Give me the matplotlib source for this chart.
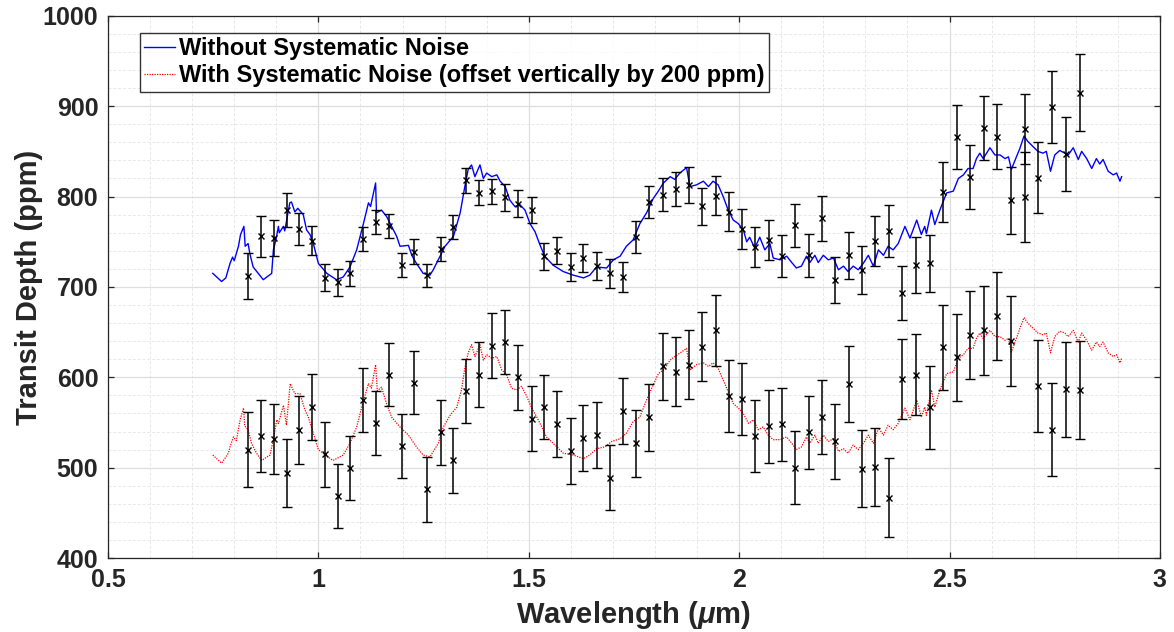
import numpy as np
import matplotlib.pyplot as plt
from matplotlib.ticker import MultipleLocator

plt.rcParams['font.family'] = ['Liberation Sans', 'DejaVu Sans']
plt.rcParams['font.weight'] = 'bold'
plt.rcParams['mathtext.fontset'] = 'custom'
plt.rcParams['mathtext.it'] = 'Liberation Sans:italic:bold'
plt.rcParams['mathtext.rm'] = 'Liberation Sans:bold'

# model spectrum without systematic noise (wavelength in um, depth in ppm)
model_wl = [0.749, 0.770, 0.780, 0.790, 0.796, 0.800, 0.810, 0.815, 0.823, 0.826, 0.833, 0.837, 0.845,
            0.869, 0.889, 0.893, 0.899, 0.905, 0.907, 0.917, 0.920, 0.932, 0.936, 0.944, 0.951, 0.964,
            0.972, 0.980, 0.988, 1.000, 1.020, 1.043, 1.059, 1.075, 1.091, 1.107, 1.119, 1.124, 1.136,
            1.138, 1.150, 1.162, 1.174, 1.186, 1.194, 1.214, 1.222, 1.233, 1.249, 1.265, 1.273, 1.289,
            1.301, 1.321, 1.337, 1.348, 1.356, 1.364, 1.372, 1.384, 1.392, 1.400, 1.412, 1.424, 1.432,
            1.444, 1.455, 1.467, 1.479, 1.491, 1.503, 1.515, 1.527, 1.538, 1.558, 1.582, 1.606, 1.630,
            1.645, 1.661, 1.685, 1.701, 1.717, 1.732, 1.748, 1.764, 1.780, 1.796, 1.808, 1.820, 1.836,
            1.847, 1.859, 1.875, 1.883, 1.899, 1.915, 1.927, 1.938, 1.950, 1.962, 1.974, 1.986, 1.998,
            2.010, 2.018, 2.025, 2.037, 2.049, 2.061, 2.073, 2.081, 2.097, 2.113, 2.125, 2.136, 2.148,
            2.160, 2.168, 2.180, 2.188, 2.200, 2.212, 2.224, 2.236, 2.248, 2.259, 2.271, 2.283, 2.295,
            2.307, 2.319, 2.331, 2.343, 2.354, 2.366, 2.378, 2.394, 2.406, 2.422, 2.433, 2.441, 2.445,
            2.457, 2.465, 2.477, 2.493, 2.509, 2.521, 2.533, 2.544, 2.556, 2.564, 2.572, 2.580, 2.596,
            2.608, 2.620, 2.632, 2.640, 2.647, 2.659, 2.667, 2.677, 2.686, 2.699, 2.710, 2.722, 2.730,
            2.740, 2.750, 2.762, 2.774, 2.782, 2.794, 2.806, 2.814, 2.826, 2.838, 2.849, 2.857, 2.865,
            2.877, 2.889, 2.897, 2.905, 2.909]
model_depth = [715, 706, 710, 726, 733, 729, 745, 758, 767, 745, 748, 737, 722,
               708, 715, 741, 752, 767, 760, 767, 762, 793, 794, 783, 787, 780,
               763, 758, 748, 726, 715, 708, 711, 722, 741, 770, 793, 789, 815,
               782, 785, 778, 767, 756, 745, 746, 735, 726, 715, 713, 719, 734,
               745, 756, 782, 811, 830, 835, 822, 835, 820, 826, 822, 824, 817,
               811, 796, 789, 791, 785, 770, 761, 746, 734, 724, 717, 713, 710,
               713, 722, 721, 730, 734, 745, 752, 770, 782, 798, 806, 815, 822,
               819, 826, 832, 811, 813, 817, 811, 817, 813, 800, 785, 774, 770,
               763, 750, 755, 743, 755, 741, 748, 732, 730, 734, 727, 721, 723,
               734, 727, 735, 727, 735, 730, 732, 719, 723, 717, 723, 719, 726,
               735, 723, 741, 735, 745, 741, 748, 767, 754, 774, 758, 767, 759,
               785, 769, 785, 804, 806, 820, 824, 831, 831, 842, 848, 842, 854,
               846, 846, 842, 844, 830, 844, 853, 867, 861, 855, 850, 848, 850,
               828, 846, 851, 848, 846, 854, 841, 850, 842, 831, 842, 836, 841,
               828, 824, 826, 817, 822]

# model spectrum with systematic noise, as drawn (already offset down by 200 ppm)
noisy_wl = [0.749, 0.770, 0.786, 0.790, 0.798, 0.805, 0.814, 0.822, 0.825, 0.833, 0.841, 0.853, 0.865,
            0.885, 0.893, 0.901, 0.905, 0.917, 0.924, 0.933, 0.944, 0.956, 0.968, 0.976, 0.988, 1.000,
            1.016, 1.035, 1.059, 1.075, 1.091, 1.103, 1.119, 1.126, 1.136, 1.140, 1.150, 1.162, 1.174,
            1.194, 1.214, 1.233, 1.249, 1.265, 1.273, 1.285, 1.297, 1.313, 1.329, 1.340, 1.348, 1.356,
            1.364, 1.372, 1.384, 1.392, 1.400, 1.412, 1.424, 1.436, 1.447, 1.459, 1.471, 1.483, 1.495,
            1.507, 1.519, 1.531, 1.542, 1.558, 1.582, 1.606, 1.630, 1.645, 1.661, 1.681, 1.697, 1.717,
            1.732, 1.748, 1.764, 1.780, 1.796, 1.808, 1.820, 1.836, 1.847, 1.863, 1.875, 1.883, 1.899,
            1.915, 1.927, 1.938, 1.950, 1.962, 1.974, 1.986, 1.998, 2.010, 2.022, 2.034, 2.045, 2.057,
            2.069, 2.081, 2.097, 2.113, 2.125, 2.136, 2.148, 2.160, 2.168, 2.180, 2.188, 2.200, 2.212,
            2.224, 2.236, 2.248, 2.259, 2.271, 2.283, 2.295, 2.307, 2.319, 2.331, 2.343, 2.354, 2.366,
            2.378, 2.394, 2.406, 2.422, 2.433, 2.441, 2.445, 2.457, 2.465, 2.477, 2.493, 2.509, 2.521,
            2.533, 2.544, 2.556, 2.564, 2.572, 2.580, 2.596, 2.608, 2.620, 2.632, 2.640, 2.647, 2.659,
            2.667, 2.677, 2.686, 2.699, 2.710, 2.722, 2.730, 2.740, 2.750, 2.762, 2.774, 2.782, 2.794,
            2.806, 2.814, 2.826, 2.838, 2.849, 2.857, 2.865, 2.877, 2.889, 2.897, 2.905, 2.909]
noisy_depth = [514, 505, 516, 523, 534, 530, 553, 566, 546, 542, 527, 516, 508,
               514, 531, 553, 549, 569, 547, 593, 582, 582, 564, 556, 538, 520,
               514, 508, 514, 527, 545, 567, 593, 588, 614, 585, 589, 571, 556,
               545, 536, 523, 514, 512, 518, 527, 545, 558, 567, 586, 610, 627,
               636, 623, 636, 619, 625, 621, 623, 608, 603, 588, 586, 590, 579,
               566, 556, 545, 534, 527, 516, 514, 510, 514, 521, 523, 529, 532,
               538, 551, 556, 575, 592, 604, 608, 619, 623, 628, 632, 608, 614,
               616, 612, 616, 610, 597, 584, 571, 566, 560, 549, 553, 542, 545,
               536, 531, 531, 534, 527, 520, 523, 534, 527, 536, 527, 536, 529,
               532, 518, 521, 516, 525, 520, 527, 536, 527, 544, 536, 547, 542,
               549, 566, 553, 575, 556, 567, 558, 586, 567, 586, 604, 606, 621,
               625, 632, 632, 643, 649, 643, 652, 645, 645, 641, 643, 628, 643,
               654, 666, 660, 654, 649, 647, 649, 627, 645, 651, 649, 645, 652,
               639, 649, 641, 630, 639, 634, 639, 627, 623, 625, 616, 621]

# binned simulated observations
bin_wl = [0.833, 0.864, 0.894, 0.925, 0.955, 0.985, 1.015, 1.046, 1.076, 1.106, 1.137, 1.168, 1.198,
          1.228, 1.258, 1.291, 1.321, 1.352, 1.382, 1.413, 1.444, 1.475, 1.507, 1.537, 1.568, 1.600,
          1.630, 1.661, 1.693, 1.723, 1.756, 1.786, 1.818, 1.849, 1.881, 1.912, 1.944, 1.976, 2.007,
          2.038, 2.070, 2.102, 2.133, 2.165, 2.197, 2.228, 2.261, 2.293, 2.324, 2.356, 2.388, 2.420,
          2.453, 2.485, 2.518, 2.549, 2.582, 2.613, 2.646, 2.679, 2.711, 2.744, 2.777, 2.809]
clean_obs = [712, 756, 754, 785, 764, 751, 710, 705, 715, 753, 772, 767, 724,
             739, 713, 742, 766, 818, 804, 806, 799, 792, 785, 734, 740, 722,
             732, 723, 715, 711, 755, 794, 802, 808, 813, 789, 801, 783, 764,
             744, 752, 734, 768, 735, 776, 708, 735, 719, 751, 762, 693, 724,
             726, 805, 866, 822, 876, 866, 796, 875, 821, 899, 847, 915]
clean_err = [25.5, 23, 20.3, 18.5, 17.5, 16.2, 15, 14.8, 14.2, 13.5, 13.5, 13.3, 13.5,
             13.5, 12.9, 13.1, 13.5, 13.8, 13.8, 13.8, 14.8, 14.8, 14.8, 15.1, 15.1, 15.3,
             15.7, 15.7, 16.2, 16.8, 17.5, 17.5, 18.3, 18.8, 19.6, 20.3, 21.2, 21.6, 22.1,
             22.1, 22.5, 23, 23.4, 24, 24.9, 25.3, 26, 26.8, 28, 29.2, 29.9, 30.8,
             31.7, 33, 35, 35.4, 35.8, 36, 37, 38.6, 39, 40, 41.2, 42.6]
noisy_obs = [520, 535, 532, 494, 542, 567, 515, 469, 500, 575, 549, 603, 524,
             594, 476, 539, 508, 585, 603, 635, 639, 600, 554, 567, 548, 518,
             533, 536, 489, 563, 527, 556, 612, 606, 614, 634, 652, 579, 576,
             535, 546, 548, 500, 539, 556, 529, 593, 499, 501, 467, 598, 603,
             567, 633, 622, 647, 652, 668, 640, 799, 590, 542, 587, 586]
noisy_err = [41.5, 40, 38.7, 37.6, 37.8, 36.5, 36, 35.6, 35.6, 35.4, 35.4, 35, 35.4,
             35, 35.6, 35.6, 35.6, 35.4, 35.6, 36, 35.6, 36, 36, 35.6, 36.5, 36.5,
             36.5, 36.3, 36.3, 36.7, 37.3, 37.1, 37.5, 38.2, 38.4, 38.4, 39, 39.7, 40,
             40, 40.4, 40.2, 40.2, 40.6, 41.2, 41.5, 42, 42.4, 43.4, 43.7, 44.3, 45.2,
             45.8, 46.7, 48.4, 48.4, 48.9, 48.5, 50, 49.8, 50.9, 51.3, 52.6, 54]

x_ticks = [0.5, 1, 1.5, 2, 2.5, 3]
x_tick_labels = ['0.5', '1', '1.5', '2', '2.5', '3']
y_ticks = [400, 500, 600, 700, 800, 900, 1000]

dark = '#262626'

fig = plt.figure(figsize=(11.74, 6.32), dpi=100)
ax = fig.add_axes([0.092, 0.117, 0.896, 0.858])

ax.plot(model_wl, model_depth, color='#0000ff', lw=1.0,
        label='Without Systematic Noise', zorder=3)
ax.plot(noisy_wl, noisy_depth, color='#ff0000', lw=0.9, ls=(0, (1, 1)),
        label='With Systematic Noise (offset vertically by 200 ppm)', zorder=3)

ax.errorbar(bin_wl, clean_obs, yerr=clean_err, fmt='x', color='black', ms=4,
            mew=1.0, elinewidth=1.1, capsize=3.5, capthick=1.1, zorder=4)
ax.errorbar(bin_wl, noisy_obs, yerr=noisy_err, fmt='x', color='black', ms=4,
            mew=1.0, elinewidth=1.1, capsize=3.5, capthick=1.1, zorder=4)

ax.set_xlim(0.5, 3)
ax.set_ylim(400, 1000)
ax.set_xticks(x_ticks)
ax.set_xticklabels(x_tick_labels)
ax.set_yticks(y_ticks)
ax.xaxis.set_minor_locator(MultipleLocator(0.1))
ax.yaxis.set_minor_locator(MultipleLocator(20))

ax.grid(which='major', color='#dedede', lw=0.9, ls='-')
ax.grid(which='minor', color='#e8e8e8', lw=0.7, ls=(0, (3, 2)))
ax.set_axisbelow(True)

ax.tick_params(which='major', direction='in', length=4, width=0.9, top=True, right=True,
               labelsize=18, colors=dark, pad=7)
ax.tick_params(which='minor', length=0, top=True, right=True)
for s in ax.spines.values():
    s.set_color(dark)
    s.set_linewidth(0.9)

ax.set_xlabel(r'Wavelength ($\mu$m)', fontsize=21, fontweight='bold', color=dark, labelpad=5)
ax.set_ylabel('Transit Depth (ppm)', fontsize=21, fontweight='bold', color=dark, labelpad=0)

leg = ax.legend(loc='upper left', bbox_to_anchor=(0.030, 0.969), borderaxespad=0,
                fontsize=17, frameon=True, fancybox=False, edgecolor='black',
                handlelength=1.3, handletextpad=0.15, borderpad=0.2, labelspacing=0.15)
leg.get_frame().set_linewidth(1.0)
for t in leg.get_texts():
    t.set_fontweight('bold')
    t.set_color('black')

fig.savefig('out.png', dpi=100)
